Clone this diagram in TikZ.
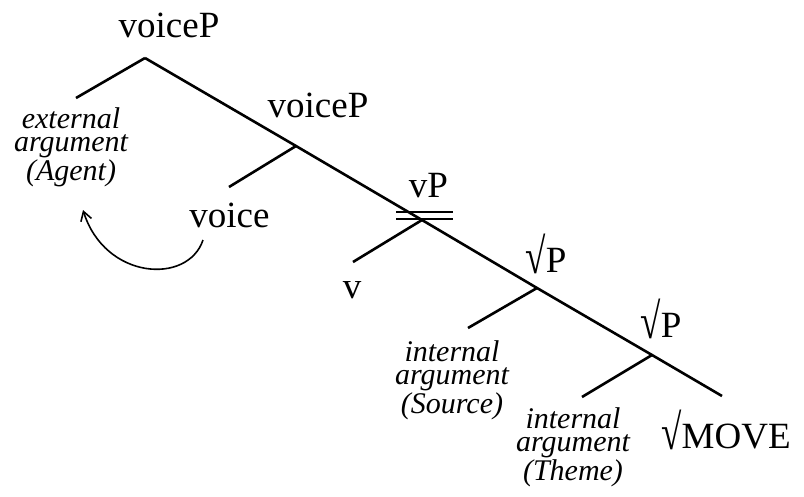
\documentclass[tikz,border=0pt]{standalone}
\usepackage{fontspec}
\setmainfont{Liberation Serif}
\usepackage{tikz}
\usetikzlibrary{calc, arrows.meta}

\newcommand{\rootsym}{\raisebox{-1pt}{\scalebox{1}[1.35]{√}}}

\tikzset{
  cat/.style={anchor=base, inner sep=0pt, font=\fontsize{37}{40}\selectfont},
  arg/.style={anchor=base, inner sep=0pt, align=center, font=\fontsize{30}{23.5}\selectfont\itshape},
  edge/.style={line width=2.6pt},
}

\begin{document}
\begin{tikzpicture}[x=1pt, y=-1pt, >=Latex]
\useasboundingbox (0,0) rectangle (804,496);

% nodi della spina
\coordinate (top) at (145,58);
\coordinate (n1) at (296,146);
\coordinate (n2) at (422,220);
\coordinate (n3) at (537,288);
\coordinate (n4) at (652,355);
\coordinate (bot) at (722,396);

% estremi dei rami
\coordinate (a1) at (76,98);
\coordinate (a2) at (229,187);
\coordinate (a3) at (353,262);
\coordinate (a4) at (468,328);
\coordinate (a5) at (582,397);

% spina e rami
\draw[edge] (top) -- (n1) -- (n2) -- (n3) -- (n4) -- (bot);
\draw[edge] (top) -- (a1);
\draw[edge] (n1) -- (a2);
\draw[edge] (n2) -- (a3);
\draw[edge] (n3) -- (a4);
\draw[edge] (n4) -- (a5);

% doppia barra su vP
\draw[line width=2.2pt] ($(n2)+(-26,-8)$) -- ($(n2)+(31,-8)$);
\draw[line width=2.2pt] ($(n2)+(-26,-1)$) -- ($(n2)+(31,-1)$);

% etichette
\node[cat] (voiceP) at (169,37) {voiceP};
\node[cat] (voiceP2) at (318,117) {voiceP};
\node[cat] (voice) at (229.5,227) {voice};
\node[cat] (vP) at (428.5,197) {vP};
\node[cat] (v) at (352,298) {v};
\node[cat] (rootP) at (546,272) {\rootsym P};
\node[cat] (rootP2) at (661,337) {\rootsym P};
\node[cat] (move) at (726,448) {\rootsym MOVE};

% argomenti
\node[arg] (agent) at (71,180) {external\\argument\\(Agent)};
\node[arg] (source) at (452,413) {internal\\argument\\(Source)};
\node[arg] (theme) at (573,480) {internal\\argument\\(Theme)};

% freccia da voice
\coordinate (mvfrom) at (203,240);
\coordinate (mvto) at (83,210);
\draw[line width=1.6pt, -{Straight Barb[length=9pt, width=11pt]}]
  (mvfrom) .. controls (188,285) and (105,280) .. (mvto);

\end{tikzpicture}
\end{document}
